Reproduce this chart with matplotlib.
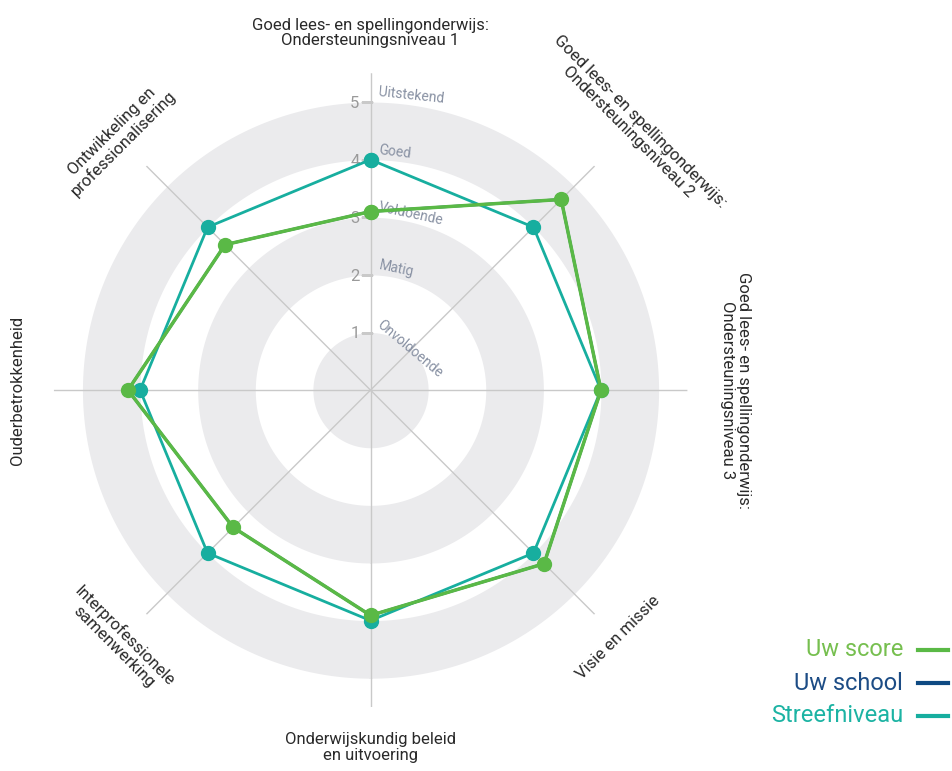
import numpy as np
import matplotlib
matplotlib.use("Agg")
from matplotlib import pyplot as plt
from matplotlib.transforms import offset_copy

plt.rcParams['font.family'] = ['Roboto', 'DejaVu Sans']

# data
categories = [
    "Goed lees- en spellingonderwijs:\nOndersteuningsniveau 1",
    "Goed lees- en spellingonderwijs:\nOndersteuningsniveau 2",
    "Goed lees- en spellingonderwijs:\nOndersteuningsniveau 3",
    "Visie en missie",
    "Onderwijskundig beleid\nen uitvoering",
    "Interprofessionele\nsamenwerking",
    "Ouderbetrokkenheid",
    "Ontwikkeling en\nprofessionalisering",
]
uw_score = [3.1, 4.68, 4.0, 4.26, 3.91, 3.37, 4.21, 3.57]
uw_school = [3.1, 4.68, 4.0, 4.26, 3.91, 3.37, 4.21, 3.57]
streefniveau = [4.0, 4.0, 4.0, 4.0, 4.0, 4.0, 4.0, 4.0]
levels = [1, 2, 3, 4, 5]
level_names = ["Onvoldoende", "Matig", "Voldoende", "Goed", "Uitstekend"]

green = "#5ab946"
teal = "#17ae9f"
navy = "#0f4a82"
band = "#ebebed"
axcol = "#c9c9c9"

fig = plt.figure(figsize=(9.52, 7.71), dpi=100)
ax = fig.add_axes([0.0562, 0.083, 0.666, 0.822], projection="polar")
ax.set_theta_zero_location("N")
ax.set_theta_direction(-1)
ax.set_ylim(0, 5.5)
ax.axis("off")

# gray bands
t = np.linspace(0, 2 * np.pi, 400)
for lo, hi in [(0, 1), (2, 3), (4, 5)]:
    ax.fill_between(t, lo, hi, color=band, lw=0, zorder=0)

n = len(categories)
angles = np.arange(n) * 2 * np.pi / n

# spokes
for a in angles:
    ax.plot([a, a], [0, 5.5], color=axcol, lw=1, zorder=1)

# level ticks on top axis
tick_tr = offset_copy(ax.transData, fig=fig, x=-4, y=0, units="dots")
for lv, name in zip(levels, level_names):
    ax.plot([0], [lv], marker="_", markersize=8, color=axcol, mew=1,
            transform=tick_tr, zorder=1)
    ax.annotate(str(lv), xy=(0, lv), xytext=(-8, -1), textcoords="offset points",
                ha="right", va="center", fontsize=12, color="#9a9a9a")
rot = {"Uitstekend": -6, "Goed": -7, "Voldoende": -12, "Matig": -12, "Onvoldoende": -40}
for lv, name in zip(levels, level_names):
    ax.annotate(name, xy=(0, lv), xytext=(6, 7), textcoords="offset points",
                ha="left", va="center", fontsize=10, color="#8891a3",
                rotation=rot[name], rotation_mode="anchor")

# series
def closed(v):
    return np.append(angles, angles[0]), np.append(v, v[0])

th, r = closed(streefniveau)
ax.plot(th, r, color=teal, lw=2, marker="o", markersize=10, zorder=3)
th, r = closed(uw_school)
ax.plot(th, r, color=navy, lw=2, zorder=3.5)
th, r = closed(uw_score)
ax.plot(th, r, color=green, lw=2.5, marker="o", markersize=10, zorder=4)

# category labels
label_r = [6.2, 6.47, 6.34, 6.08, 6.2, 6.16, 6.12, 6.2]
label_rot = [0, -45, -90, 45, 0, -45, 90, 45]
for a, txt, lr, ro in zip(angles, categories, label_r, label_rot):
    ax.text(a, lr, txt, ha="center", va="center", rotation=ro,
            rotation_mode="anchor", fontsize=12, color="#2a2a2a",
            linespacing=1.05, clip_on=False)

# legend
legend_items = [("Uw score", green, "#76bf4f"), ("Uw school", navy, "#1c4c85"),
                ("Streefniveau", teal, "#1cb3a3")]
for i, (lab, lc, tc) in enumerate(legend_items):
    y = 1 - (650 + 33 * i) / 771
    fig.text(903 / 952, y, lab, ha="right", va="center", fontsize=17, color=tc)
    fig.add_artist(plt.Line2D([918 / 952, 948 / 952], [y, y], color=lc, lw=3,
                              transform=fig.transFigure))

fig.savefig("out.png", dpi=100)
